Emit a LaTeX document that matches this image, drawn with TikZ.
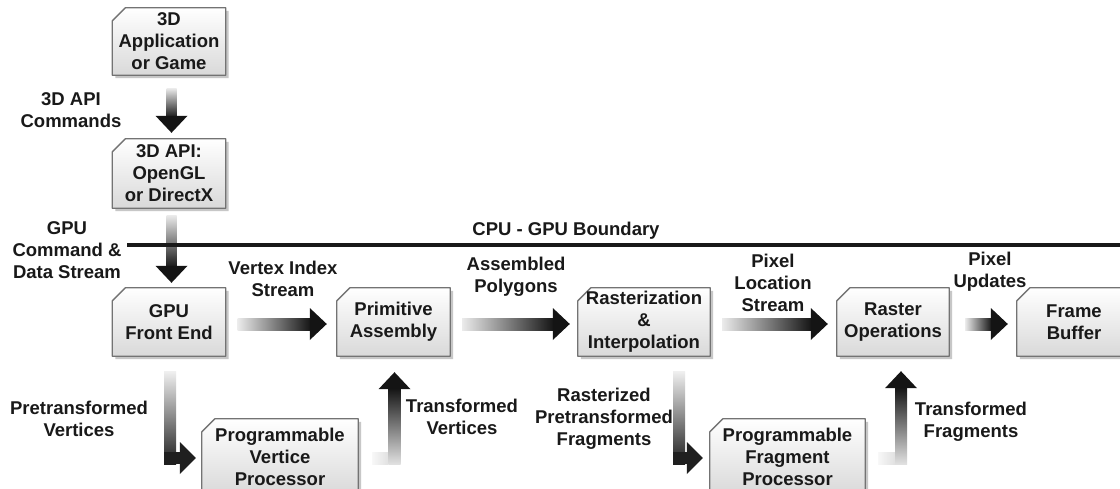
\documentclass[tikz,border=0pt]{standalone}
\usepackage{fontspec}
\setmainfont{Liberation Sans}
\usetikzlibrary{calc,backgrounds}
\tikzset{
  txt/.style={font=\fontsize{18.5}{22}\selectfont\bfseries, text=black!90, align=center, inner sep=0pt},
  boxline/.style={draw=black!55, line width=1.3pt, line join=round},
  boxshadow/.style={fill=black!22},
}
% gradient box with chamfered top-left corner
\newcommand{\gbox}[5]{%
  \node[txt, minimum width=#3pt, minimum height=#4pt] (#1) at (#2) {#5};
  \begin{pgfonlayer}{background}
    \fill[boxshadow] ($(#1.north west)+(16,3)$) -- ($(#1.north east)+(3,3)$) -- ($(#1.south east)+(3,3)$) -- ($(#1.south west)+(3,3)$) -- ($(#1.north west)+(3,16)$) -- cycle;
    \draw[boxline, top color=white, bottom color=black!15] ($(#1.north west)+(13,0)$) -- (#1.north east) -- (#1.south east) -- (#1.south west) -- ($(#1.north west)+(0,13)$) -- cycle;
  \end{pgfonlayer}}
% horizontal gradient arrow: start, tip
\newcommand{\harr}[2]{%
  \path (#1) coordinate (hs) (#2) coordinate (ht0);
  \path (hs -| ht0) coordinate (ht);
  \shade[left color=black!8, right color=black!92] ($(hs)+(0,-6)$) rectangle ($(ht)+(-16,6)$);
  \fill[black!92] ($(ht)+(-17,-16)$) -- (ht) -- ($(ht)+(-17,16)$) -- cycle;}
% vertical downward gradient arrow: start, tip
\newcommand{\varr}[2]{%
  \path (#1) coordinate (vs) (#2) coordinate (vt0);
  \path (vs |- vt0) coordinate (vt);
  \shade[top color=black!8, bottom color=black!92] ($(vs)+(-5,0)$) rectangle ($(vt)+(5,-15)$);
  \fill[black!92] ($(vt)+(-16,-17)$) -- (vt) -- ($(vt)+(16,-17)$) -- cycle;}
% L arrow: down then right
\newcommand{\ldr}[2]{%
  \path (#1) coordinate (ls) (#2) coordinate (lt);
  \shade[top color=black!6, bottom color=black!88] ($(ls)+(-6,0)$) rectangle ($(ls |- lt)+(6,6)$);
  \fill[black!88] ($(ls |- lt)+(-6,-6)$) rectangle ($(lt)+(-15,6)$);
  \fill[black!88] ($(lt)+(-16,-16)$) -- (lt) -- ($(lt)+(-16,16)$) -- cycle;}
% L arrow: right then up
\newcommand{\lru}[2]{%
  \path (#1) coordinate (ms) (#2) coordinate (mt);
  \shade[left color=black!3, right color=black!12] ($(ms)+(0,-6)$) rectangle ($(mt |- ms)+(-6,6)$);
  \shade[bottom color=black!12, top color=black!92] ($(mt |- ms)+(-6,6)$) rectangle ($(mt)+(6,16)$);
  \fill[black!92] ($(mt)+(-16,17)$) -- (mt) -- ($(mt)+(16,17)$) -- cycle;}
\begin{document}
\begin{tikzpicture}[x=1pt,y=-1pt]
\begin{pgfonlayer}{background}
\fill[white] (0,0) rectangle (1120,488);
\end{pgfonlayer}
\useasboundingbox (0,0) rectangle (1120,488);
% boxes
\gbox{app}{169,41.5}{113}{67}{3D\\Application\\or Game}
\gbox{api}{169,173.5}{113}{69}{3D API:\\OpenGL\\or DirectX}
\gbox{fe}{169,322}{113}{68}{GPU\\Front End}
\gbox{pa}{393.5,322}{113}{68}{Primitive\\Assembly}
\gbox{ri}{644,322}{132}{68}{Rasterization\\\&\\Interpolation}
\gbox{ro}{893,322}{112}{68}{Raster\\Operations}
\gbox{fb}{1074,322}{114}{68}{Frame\\Buffer}
\gbox{pvp}{280,457}{156}{76}{Programmable\\Vertice\\Processor}
\gbox{pfp}{787.5,457}{155}{76}{Programmable\\Fragment\\Processor}
% arrows
\varr{$(app.south)+(2.5,13)$}{$(api.north)+(2.5,-6)$}
\varr{$(api.south)+(2.5,7)$}{$(fe.north)+(2.5,-5)$}
\harr{$(fe.east)+(12,2)$}{$(pa.west)+(-10,2)$}
\harr{$(pa.east)+(12,2)$}{$(ri.west)+(-8,2)$}
\harr{$(ri.east)+(12,2)$}{$(ro.west)+(-9,2)$}
\harr{$(ro.east)+(16,2)$}{$(fb.west)+(-9,2)$}
\ldr{$(fe.south)+(1,15)$}{$(pvp.west)+(-6,1)$}
\lru{$(pvp.east)+(14,1)$}{$(pa.south)+(1,16)$}
\ldr{$(ri.south east)+(-31,15)$}{$(pfp.west)+(-7,1)$}
\lru{$(pfp.east)+(13,1)$}{$(ro.south)+(8,15)$}
% boundary
\coordinate (bl) at (127,245);
\coordinate (br) at (1125,245);
\draw[line width=3.5pt, black!90] (bl) -- (br);
% labels
\node[txt] (l1) at (71,110) {3D API\\Commands};
\node[txt] (l2) at (67,250) {GPU\\Command \&\\Data Stream};
\node[txt] (l3) at (566,231) {CPU - GPU Boundary};
\node[txt] (l4) at (283,279) {Vertex Index\\Stream};
\node[txt] (l5) at (516,277) {Assembled\\Polygons};
\node[txt] (l6) at (773,283) {Pixel\\Location\\Stream};
\node[txt] (l7) at (990,272) {Pixel\\Updates};
\node[txt] (l8) at (79,419) {Pretransformed\\Vertices};
\node[txt] (l9) at (462,417) {Transformed\\Vertices};
\node[txt] (l10) at (604,419) {Rasterized\\Pretransformed\\Fragments};
\node[txt] (l11) at (971,422) {Transformed\\Fragments};
\end{tikzpicture}
\end{document}
